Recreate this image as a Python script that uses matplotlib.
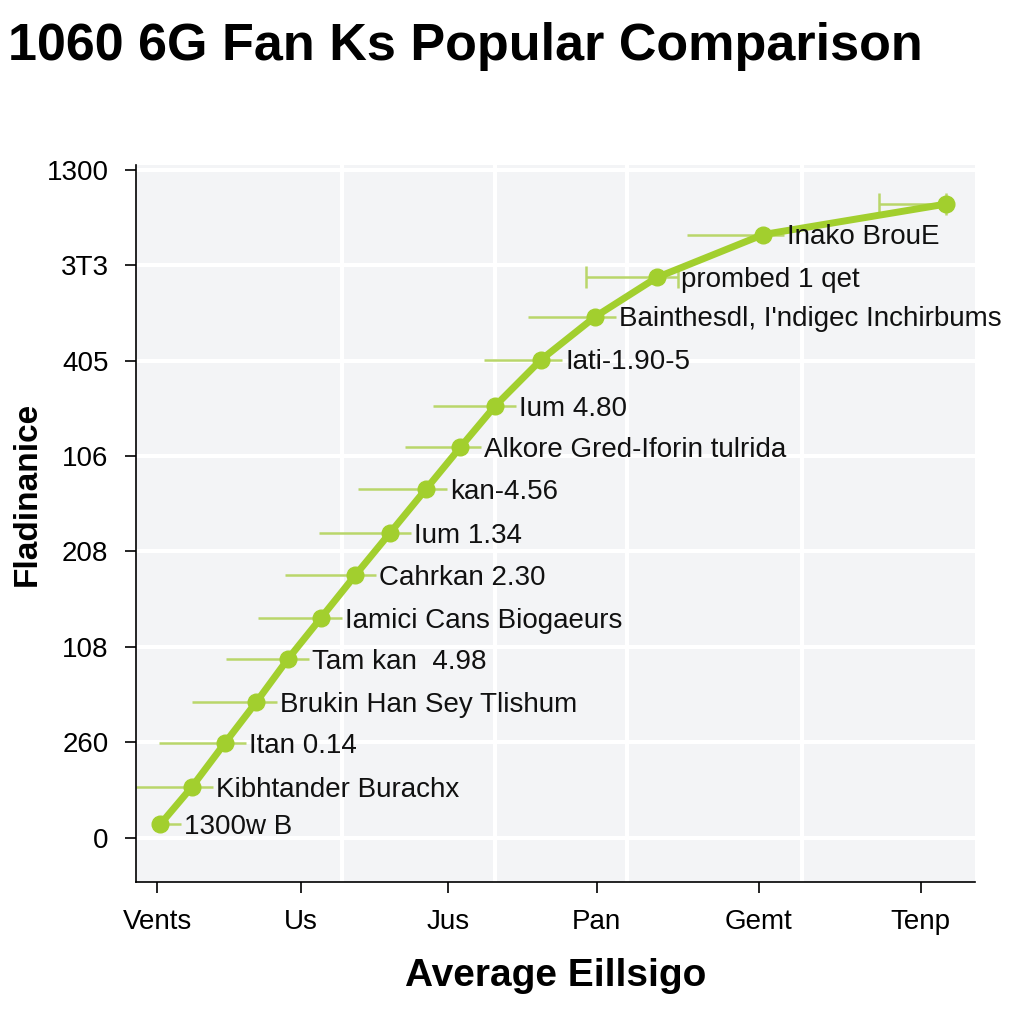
import matplotlib.pyplot as plt
import numpy as np

plt.rcParams['font.family'] = ['Liberation Sans', 'DejaVu Sans']

# x positions of the category ticks and their labels
tick_pos = [0, 0.96, 1.94, 2.93, 4.01, 5.09]
tick_names = ["Vents", "Us", "Jus", "Pan", "Gemt", "Tenp"]
grid_x = [1.23, 2.25, 3.13, 4.30]

ytick_pos = [0, 1, 2, 3, 4, 5, 6, 7]
ytick_names = ["0", "260", "108", "208", "106", "405", "3T3", "1300"]

xs = [0.02, 0.23, 0.45, 0.66, 0.87, 1.09, 1.32, 1.55, 1.79, 2.02, 2.25,
      2.56, 2.92, 3.33, 4.04, 5.26]
ys = [0.14, 0.53, 0.99, 1.42, 1.87, 2.30, 2.75, 3.19, 3.65, 4.09, 4.52,
      5.01, 5.46, 5.87, 6.32, 6.64]
err_left = [0.0, 0.37, 0.44, 0.43, 0.41, 0.42, 0.47, 0.47, 0.45, 0.37, 0.41,
            0.38, 0.45, 0.47, 0.51, 0.45]
err_right = [0.14, 0.14, 0.14, 0.14, 0.14, 0.14, 0.14, 0.14, 0.14, 0.14, 0.14,
             0.14, 0.14, 0.14, 0.14, 0.0]
capped = [13, 15]
names = ["1300w B", "Kibhtander Burachx", "Itan 0.14", "Brukin Han Sey Tlishum",
         "Tam kan  4.98", "Iamici Cans Biogaeurs", "Cahrkan 2.30", "Ium 1.34",
         "kan-4.56", "Alkore Gred-Iforin tulrida", "Ium 4.80", "Iati-1.90-5",
         "Bainthesdl, I'ndigec Inchirbums", "prombed 1 qet", "Inako BrouE", ""]

green = '#a2cf2e'
bar_green = '#b9d66a'

fig = plt.figure(figsize=(10.24, 10.24), dpi=100)
ax = fig.add_axes([0.133, 0.139, 0.819, 0.700])
ax.set_facecolor('#f3f4f6')

xs = np.array(xs)
ys = np.array(ys)
el = np.array(err_left)
er = np.array(err_right)
plain = [i for i in range(len(xs)) if i not in capped]
ax.errorbar(xs[plain], ys[plain], xerr=[el[plain], er[plain]], fmt='none',
            ecolor=bar_green, elinewidth=1.8, capsize=0, zorder=2)
ax.errorbar(xs[capped], ys[capped], xerr=[el[capped], er[capped]], fmt='none',
            ecolor=bar_green, elinewidth=1.8, capsize=8, capthick=1.8, zorder=2)
ax.plot(xs, ys, '-o', color=green, lw=5, markersize=12, zorder=3)

for x, y, t in zip(xs, ys, names):
    if t:
        ax.text(x + 0.16, y - 0.03, t, fontsize=20, va='center', ha='left',
                color='#111111', zorder=4)

ax.set_xlim(-0.14, 5.45)
ax.set_ylim(-0.46, 7.05)
ax.set_xticks(tick_pos)
ax.set_xticklabels(tick_names, fontsize=20)
ax.set_yticks(ytick_pos)
ax.set_yticklabels(ytick_names, fontsize=20)
ax.set_xticks(grid_x, minor=True)
ax.tick_params(axis='x', which='minor', length=0)
ax.tick_params(axis='both', which='major', length=8, width=1.2, pad=12)
ax.grid(True, axis='y', which='major', color='white', lw=3)
ax.grid(True, axis='x', which='minor', color='white', lw=3)
ax.set_axisbelow(True)
for s in ['top', 'right']:
    ax.spines[s].set_visible(False)
for s in ['left', 'bottom']:
    ax.spines[s].set_linewidth(1.2)

ax.set_xlabel("Average Eillsigo", fontsize=28, fontweight='bold', labelpad=16)
fig.text(0.027, 0.518, "Fladinanice", fontsize=24, fontweight='bold',
         rotation=90, ha='center', va='center')
fig.text(0.008, 0.955, "1060 6G Fan Ks Popular Comparison", fontsize=37.5,
         fontweight='bold', ha='left', va='center')

plt.savefig('out.png')
